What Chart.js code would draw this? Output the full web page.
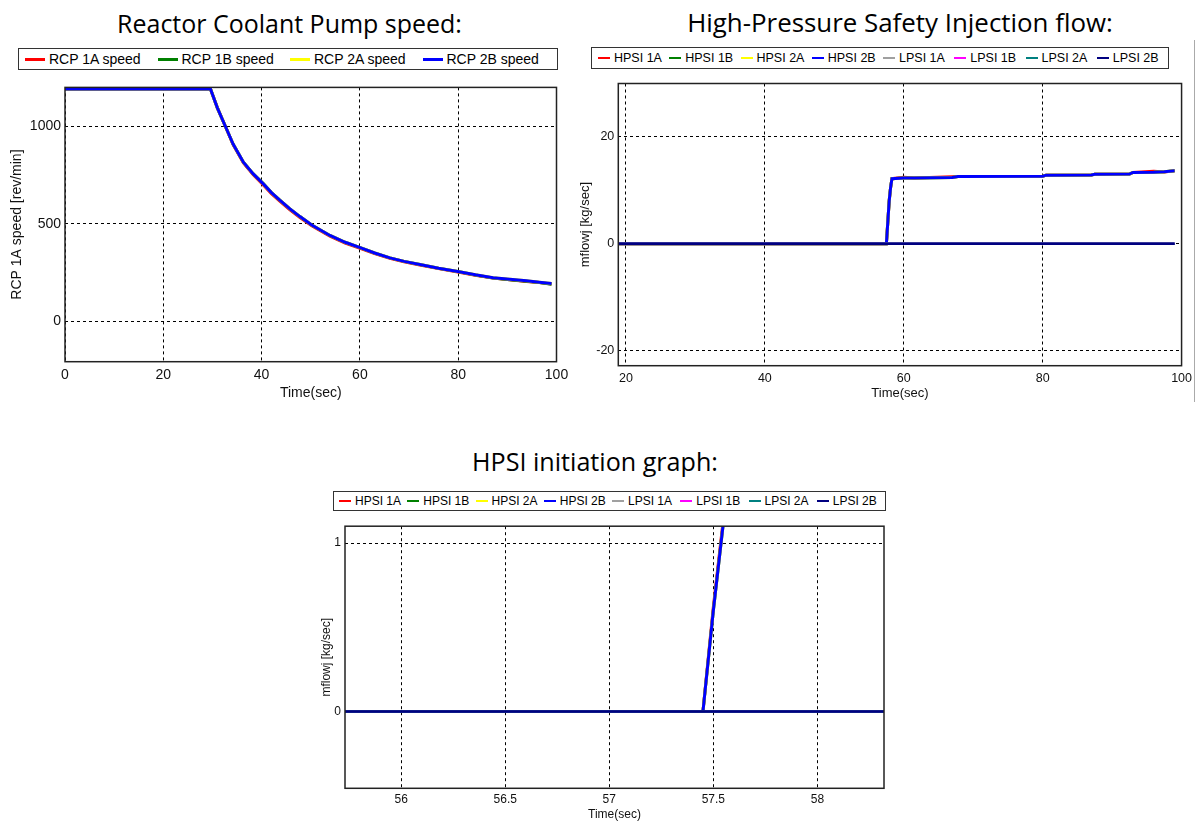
<!DOCTYPE html>
<html><head><meta charset="utf-8">
<script src="https://cdn.jsdelivr.net/npm/chart.js@4.4.0/dist/chart.umd.min.js"></script>
<style>
body{margin:0;background:#fff;width:1197px;height:822px;overflow:hidden;position:relative;font-family:"Liberation Sans",Arial,sans-serif;}
.title{position:absolute;font-family:"Open Sans",sans-serif;color:#000;white-space:nowrap;line-height:1;}
.legend{position:absolute;border:1px solid #333;display:flex;align-items:center;box-sizing:border-box;background:#fff;}
.item{display:flex;align-items:center;white-space:nowrap;color:#000;box-sizing:border-box;}
.sw{display:inline-block;margin-right:4px}
canvas{position:absolute}
.vline{position:absolute;left:1194px;top:40px;width:1px;height:362px;background:#aaa}
</style></head><body>
<div class="title" id="t1">Reactor Coolant Pump speed:</div>
<div class="title" id="t2">High-Pressure Safety Injection flow:</div>
<div class="title" id="t3">HPSI initiation graph:</div>
<div class="legend" id="lg1"></div>
<div class="legend" id="lg2"></div>
<div class="legend" id="lg3"></div>
<div class="vline"></div>
<canvas id="c1" width="575" height="330" style="left:0;top:75px"></canvas>
<canvas id="c2" width="622" height="340" style="left:575px;top:72px"></canvas>
<canvas id="c3" width="600" height="307" style="left:300px;top:515px"></canvas>
<script>
// ---------- Chart 1: Reactor Coolant Pump speed ----------
const rcpNames = ['RCP 1A speed','RCP 1B speed','RCP 2A speed','RCP 2B speed'];
const rcpColors = ['#ff0000','#008000','#ffff00','#0000ff'];
const rcpTime = [0,29.6,31,32.6,34.2,36.3,38.3,40.3,42,43.7,45.7,47.8,50.2,53.9,57,60.2,63,66.1,69,72.2,76,80.2,83.5,87.1,90.5,93.9,96.5,99];
const rcp1A = [1192,1192,1095,1002,906,812,752,701,655,616,573,532,490,436,401,373,347,323,305,288,270,251,236,221,212,204,198,191];
const rcp1B = [1192,1192,1095,1002,909,816,756,708,660,621,578,537,494,440,405,376,350,325,307,291,272,254,237,222,213,205,199,190];
const rcp2A = [1192,1192,1095,1002,909,816,756,706,660,621,578,537,494,440,405,376,350,325,307,291,272,254,238,223,215,207,200,193];
const rcp2B = [1192,1192,1095,1002,909,816,756,706,660,621,578,537,494,440,405,376,350,325,307,291,272,254,238,223,215,207,200,193];
const rcpXTicks = [0,20,40,60,80,100];
const rcpYTicks = [0,500,1000];

// ---------- Chart 2: High-Pressure Safety Injection flow ----------
const siNames = ['HPSI 1A','HPSI 1B','HPSI 2A','HPSI 2B','LPSI 1A','LPSI 1B','LPSI 2A','LPSI 2B'];
const siColors = ['#ff0000','#008000','#ffff00','#0000ff','#a0a0a0','#ff00ff','#008080','#000080'];
const hpsiTime = [18.9,57.5,57.6,57.75,57.9,58.1,58.3,60,61.5,67,67.8,80,80.5,87,87.5,92.5,93,96,97.5,99];
const hpsi1A = [0,0,2,5,8,10.5,12.2,12.45,12.3,12.55,12.6,12.65,12.85,12.9,13.0,13.05,13.35,13.6,13.45,13.66];
const hpsi1B = [0,0,2,5,8,10.5,12.2,12.3,12.3,12.4,12.6,12.65,12.85,12.9,13.0,13.05,13.35,13.4,13.5,13.66];
const hpsi2A = [0,0,2,5,8,10.5,12.2,12.3,12.3,12.4,12.6,12.65,12.85,12.9,13.0,13.05,13.35,13.4,13.5,13.66];
const hpsi2B = [0,0,2,5,8,10.5,12.2,12.3,12.3,12.4,12.6,12.65,12.85,12.9,13.0,13.05,13.35,13.4,13.5,13.66];
const lpsiTime = [18.9,99];
const lpsi1A = [0,0];
const lpsi1B = [0,0];
const lpsi2A = [0,0];
const lpsi2B = [0,0];
const siXTicks = [20,40,60,80,100];
const siYTicks = [-20,0,20];

// ---------- Chart 3: HPSI initiation graph ----------
const initTime = [55.73,57.45,57.5,57.56];
const init1A = [0,0,0.62,1.27];
const init1B = [0,0,0.6,1.25];
const init2A = [0,0,0.6,1.25];
const init2B = [0,0,0.6,1.25];
const initLpsiTime = [55.73,58.32];
const initLpsi1A = [0,0];
const initLpsi1B = [0,0];
const initLpsi2A = [0,0];
const initLpsi2B = [0,0];
const initXTicks = [56,56.5,57,57.5,58];
const initYTicks = [0,1];

// ---------- helpers ----------
function fitTitle(id, cx, cy, targetW){
  const el = document.getElementById(id);
  el.style.fontSize = '20px';
  const w = el.getBoundingClientRect().width;
  el.style.fontSize = (20*targetW/w).toFixed(2)+'px';
  const r = el.getBoundingClientRect();
  el.style.left = (cx - r.width/2)+'px';
  el.style.top = (cy - r.height/2)+'px';
}
fitTitle('t1', 289.5, 23, 345);
fitTitle('t2', 900, 23, 426);
fitTitle('t3', 595, 462, 246);

function buildLegend(id, names, colors, box, pitch, padL, fontPx, swW, swH){
  const lg = document.getElementById(id);
  Object.assign(lg.style,{left:box[0]+'px',top:box[1]+'px',width:box[2]+'px',height:box[3]+'px',paddingLeft:padL+'px',fontSize:fontPx+'px'});
  names.forEach((n,i)=>{
    const it = document.createElement('div'); it.className='item'; it.style.width=pitch+'px';
    const sw = document.createElement('span'); sw.className='sw';
    sw.style.width=swW+'px'; sw.style.height=swH+'px'; sw.style.background=colors[i];
    const tx = document.createElement('span'); tx.textContent=n;
    it.appendChild(sw); it.appendChild(tx); lg.appendChild(it);
  });
}
buildLegend('lg1', rcpNames, rcpColors, [18,48,540,22], 132.5, 6, 14, 20, 3);
buildLegend('lg2', siNames, siColors, [591,47,578,22], 71.5, 6, 12.5, 12, 2.5);
buildLegend('lg3', siNames, siColors, [333,491,553,20], 69, 5, 12, 12, 2.5);

const boxPlugin = {
  id:'box',
  afterDraw(chart){
    const {ctx, chartArea:a} = chart;
    ctx.save(); ctx.strokeStyle='#222'; ctx.lineWidth=1.5; ctx.setLineDash([]);
    ctx.strokeRect(a.left, a.top, a.right-a.left, a.bottom-a.top);
    ctx.restore();
  }
};

function series(xs, ys){ return xs.map((x,j)=>({x:x, y:ys[j]})); }

function makeChart(id, cfg){
  const n = cfg.sets.length;
  const datasets = cfg.sets.map((s,i)=>({
    label:s.label, data:series(s.x, s.y), borderColor:s.color, backgroundColor:s.color,
    showLine:true, pointRadius:0, borderWidth:s.w, tension:0, order:n-i
  }));
  const tf = {family:'"Liberation Sans", Arial, sans-serif', size:cfg.tickSize};
  const af = {family:'"Liberation Sans", Arial, sans-serif', size:cfg.titleSize};
  return new Chart(document.getElementById(id), {
    type:'scatter',
    data:{datasets},
    options:{
      responsive:false, animation:false,
      layout:{padding:{left:0,right:cfg.padR,top:cfg.padT,bottom:0}},
      plugins:{legend:{display:false}, tooltip:{enabled:false}},
      scales:{
        x:{type:'linear', min:cfg.xMin, max:cfg.xMax,
          afterBuildTicks:s=>{s.ticks=cfg.xTicks.map(v=>({value:v}));},
          afterFit:s=>{s.height=cfg.xH;},
          grid:{color:'#000', lineWidth:1, drawTicks:false},
          border:{display:false, dash:[3,3]},
          ticks:{font:tf, color:'#111', padding:cfg.xTickPad, maxRotation:0, autoSkip:false, callback:v=>String(v)},
          title:{display:true, text:'Time(sec)', font:af, color:'#111', padding:{top:0,bottom:cfg.xTitlePad}}
        },
        y:{type:'linear', min:cfg.yMin, max:cfg.yMax,
          afterBuildTicks:s=>{s.ticks=cfg.yTicks.map(v=>({value:v}));},
          afterFit:s=>{s.width=cfg.yW;},
          grid:{color:'#000', lineWidth:1, drawTicks:false},
          border:{display:false, dash:[3,3]},
          ticks:{font:tf, color:'#111', padding:4, autoSkip:false, callback:v=>String(v)},
          title:{display:true, text:cfg.yTitle, font:af, color:'#111', padding:{top:cfg.yTitlePad,bottom:0}}
        }
      }
    },
    plugins:[boxPlugin]
  });
}

makeChart('c1', {
  sets:[
    {label:rcpNames[0], x:rcpTime, y:rcp1A, color:rcpColors[0], w:3},
    {label:rcpNames[1], x:rcpTime, y:rcp1B, color:rcpColors[1], w:3},
    {label:rcpNames[2], x:rcpTime, y:rcp2A, color:rcpColors[2], w:3},
    {label:rcpNames[3], x:rcpTime, y:rcp2B, color:rcpColors[3], w:3}
  ],
  xMin:0, xMax:100, yMin:-208, yMax:1200, xTicks:rcpXTicks, yTicks:rcpYTicks,
  padR:18.5, padT:10, xH:43.3, yW:65, tickSize:14, titleSize:14,
  xTickPad:5, xTitlePad:3, yTitle:'RCP 1A speed [rev/min]', yTitlePad:9
});

const siX = [hpsiTime,hpsiTime,hpsiTime,hpsiTime,lpsiTime,lpsiTime,lpsiTime,lpsiTime];
const siY = [hpsi1A,hpsi1B,hpsi2A,hpsi2B,lpsi1A,lpsi1B,lpsi2A,lpsi2B];
makeChart('c2', {
  sets: siNames.map((n,i)=>({label:n, x:siX[i], y:siY[i], color:siColors[i], w: i<4?3:2.5})),
  xMin:18.9, xMax:100, yMin:-22.8, yMax:30, xTicks:siXTicks, yTicks:siYTicks,
  padR:14.3, padT:9.7, xH:46.3, yW:43.3, tickSize:12.5, titleSize:13,
  xTickPad:5, xTitlePad:11, yTitle:'mflowj [kg/sec]', yTitlePad:3
});

const initX = [initTime,initTime,initTime,initTime,initLpsiTime,initLpsiTime,initLpsiTime,initLpsiTime];
const initY = [init1A,init1B,init2A,init2B,initLpsi1A,initLpsi1B,initLpsi2A,initLpsi2B];
makeChart('c3', {
  sets: siNames.map((n,i)=>({label:n, x:initX[i], y:initY[i], color:siColors[i], w: i<4?3:2.5})),
  xMin:55.73, xMax:58.32, yMin:-0.455, yMax:1.1, xTicks:initXTicks, yTicks:initYTicks,
  padR:16, padT:8.3, xH:33.7, yW:45, tickSize:12, titleSize:12,
  xTickPad:4, xTitlePad:0, yTitle:'mflowj [kg/sec]', yTitlePad:19
});
</script>
</body></html>
